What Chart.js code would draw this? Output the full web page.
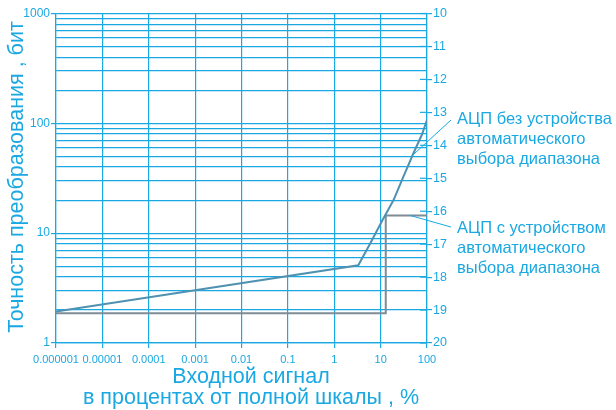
<!DOCTYPE html>
<html>
<head>
<meta charset="utf-8">
<script src="https://cdn.jsdelivr.net/npm/chart.js@4/dist/chart.umd.min.js"></script>
<style>
  html, body { margin: 0; padding: 0; background: #fff; }
  #wrap { width: 616px; height: 410px; }
</style>
</head>
<body>
<div id="wrap"><canvas id="adc-chart"></canvas></div>
<script>
// input signal, % of full scale (log axis)
const xTicks = [0.000001, 0.00001, 0.0001, 0.001, 0.01, 0.1, 1, 10, 100];
const xTickLabels = ['0.000001', '0.00001', '0.0001', '0.001', '0.01', '0.1', '1', '10', '100'];

// conversion accuracy, bits (log axis, grid at 1..9 of every decade)
const yTicks = [1, 2, 3, 4, 5, 6, 7, 8, 9,
                10, 20, 30, 40, 50, 60, 70, 80, 90,
                100, 200, 300, 400, 500, 600, 700, 800, 900, 1000];
const yTickLabels = ['1', '10', '100', '1000'];

// right axis, resolution in bits
const bitTicks = [10, 11, 12, 13, 14, 15, 16, 17, 18, 19, 20];

// ADC without automatic range selection
const noRangeX = [0.000001, 3.3, 6, 11, 19, 31, 51, 77, 100];
const noRangeY = [1.93, 5.1, 8.1, 13.2, 20, 32.7, 53.4, 78.3, 107];

// ADC with automatic range selection
const autoRangeX = [0.000001, 12.9, 12.9, 100];
const autoRangeY = [1.87, 1.87, 14.5, 14.5];

// where the callout leaders touch the curves
const noRangeNote = { x: 46, y: 50 };
const autoRangeNote = { x: 43, y: 14.5 };

const cyan = '#1aa8e2';
const font = '"Liberation Sans", Arial, sans-serif';

const toPoints = (xs, ys) => xs.map((x, i) => ({ x: x, y: ys[i] }));

const textPlugin = {
  id: 'texts',
  afterDraw(chart) {
    const c = chart.ctx;
    const xs = chart.scales.x, ys = chart.scales.y, bs = chart.scales.y2;
    c.save();
    c.fillStyle = cyan;
    c.strokeStyle = cyan;

    // inner half of right axis ticks
    c.lineWidth = 1.2;
    bitTicks.forEach(b => {
      const py = bs.getPixelForValue(b);
      c.beginPath();
      c.moveTo(xs.right - 7, py);
      c.lineTo(xs.right, py);
      c.stroke();
    });

    // axis titles
    c.font = '21.5px ' + font;
    c.textAlign = 'center';
    c.textBaseline = 'middle';
    c.save();
    c.translate(17, 177);
    c.rotate(-Math.PI / 2);
    c.fillText('Точность преобразования , бит', 0, 0);
    c.restore();
    c.fillText('Входной сигнал', 251, 377);
    c.fillText('в процентах от полной шкалы , %', 251, 398);

    // callouts
    c.lineWidth = 1;
    c.beginPath();
    c.moveTo(xs.getPixelForValue(noRangeNote.x), ys.getPixelForValue(noRangeNote.y));
    c.lineTo(451, 120);
    c.moveTo(xs.getPixelForValue(autoRangeNote.x), ys.getPixelForValue(autoRangeNote.y));
    c.lineTo(451, 227);
    c.stroke();

    c.font = '16.5px ' + font;
    c.textAlign = 'left';
    ['АЦП без устройства', 'автоматического', 'выбора диапазона']
      .forEach((t, i) => c.fillText(t, 457, 119 + i * 20));
    ['АЦП с устройством', 'автоматического', 'выбора диапазона']
      .forEach((t, i) => c.fillText(t, 457, 228 + i * 20));
    c.restore();
  }
};

new Chart(document.getElementById('adc-chart'), {
  type: 'scatter',
  data: {
    datasets: [{
      label: 'АЦП без устройства автоматического выбора диапазона',
      data: toPoints(noRangeX, noRangeY),
      showLine: true,
      borderColor: '#4f91b0',
      borderWidth: 2,
      pointRadius: 0,
      tension: 0
    }, {
      label: 'АЦП с устройством автоматического выбора диапазона',
      data: toPoints(autoRangeX, autoRangeY),
      showLine: true,
      borderColor: '#7d8c95',
      borderWidth: 2,
      pointRadius: 0,
      tension: 0
    }]
  },
  options: {
    responsive: true,
    maintainAspectRatio: false,
    animation: false,
    layout: { padding: { top: 13.5, left: 0, right: 0, bottom: 0 } },
    plugins: {
      legend: { display: false },
      tooltip: { enabled: false }
    },
    scales: {
      x: {
        type: 'logarithmic',
        position: 'bottom',
        min: 0.000001,
        max: 100,
        afterBuildTicks: s => { s.ticks = xTicks.map(v => ({ value: v })); },
        afterFit: s => { s.height = 67; },
        ticks: {
          autoSkip: false,
          maxRotation: 0,
          padding: 5,
          color: cyan,
          font: { family: font, size: 11 },
          callback: (v, i) => xTickLabels[i]
        },
        grid: { color: cyan, lineWidth: 1.2, tickLength: 5 },
        border: { color: cyan, width: 1.2 }
      },
      y: {
        type: 'logarithmic',
        position: 'left',
        min: 1,
        max: 1000,
        afterBuildTicks: s => { s.ticks = yTicks.map(v => ({ value: v })); },
        afterFit: s => { s.width = 56; },
        ticks: {
          autoSkip: false,
          padding: 1,
          color: cyan,
          font: { family: font, size: 12 },
          callback: v => yTickLabels.includes(String(v)) ? String(v) : ''
        },
        grid: {
          color: cyan,
          lineWidth: 1.2,
          tickLength: 5,
          tickColor: ctx => yTickLabels.includes(String(ctx.tick && ctx.tick.value)) ? cyan : 'rgba(0,0,0,0)'
        },
        border: { color: cyan, width: 1.2 }
      },
      y2: {
        type: 'linear',
        position: 'right',
        reverse: true,
        min: 10,
        max: 20,
        afterBuildTicks: s => { s.ticks = bitTicks.map(v => ({ value: v })); },
        afterFit: s => { s.width = 616 - 427; },
        ticks: {
          autoSkip: false,
          padding: 1,
          color: cyan,
          font: { family: font, size: 12.5 },
          callback: v => String(v)
        },
        grid: { drawOnChartArea: false, color: cyan, lineWidth: 1.2, tickLength: 5 },
        border: { color: cyan, width: 1.2 }
      }
    }
  },
  plugins: [textPlugin]
});
</script>
</body>
</html>
